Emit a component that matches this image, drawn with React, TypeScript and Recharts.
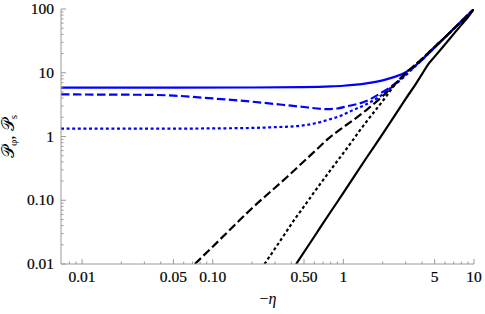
import React from 'react';
import { LineChart, Line, XAxis, YAxis } from 'recharts';

// -η positions and P values (log-log)
const blueSolidX = [0.0069, 0.05, 0.2, 0.5, 0.8, 1, 1.5, 2, 2.5, 3, 3.5, 4, 5, 6, 7, 8, 9, 10];
const blueSolidY = [5.85, 5.85, 5.87, 5.95, 6.1, 6.25, 6.8, 7.6, 8.7, 10.2, 12.6, 16, 25, 36, 49, 64, 81, 100];

const blueDashedX = [0.0069, 0.01, 0.02, 0.033, 0.05, 0.1, 0.19, 0.34, 0.5, 0.74, 0.9, 1.05, 1.5, 2, 2.5, 3, 3.5, 4, 5, 6, 7, 8, 9, 10];
const blueDashedY = [4.57, 4.56, 4.53, 4.5, 4.38, 3.95, 3.55, 3.15, 2.9, 2.69, 2.75, 2.95, 3.6, 5.0, 6.8, 9.5, 12.5, 16, 25, 36, 49, 64, 81, 100];

const blueDottedX = [0.0069, 0.05, 0.1, 0.19, 0.3, 0.46, 0.6, 0.78, 1, 1.11, 1.5, 1.88, 2.4, 2.84, 3.3, 4, 5, 6, 7, 8, 9, 10];
const blueDottedY = [1.33, 1.33, 1.34, 1.36, 1.4, 1.47, 1.6, 1.85, 2.2, 2.45, 3.2, 4.2, 6.2, 8.2, 11, 16, 25, 36, 49, 64, 81, 100];

const blackDashedX = [0.073, 0.1, 0.2, 0.376, 0.6, 0.78, 1, 1.25, 1.5, 2, 2.5, 3, 3.5, 4, 5, 6, 7, 8, 9, 10];
const blackDashedY = [0.01, 0.0187, 0.075, 0.238, 0.58, 0.95, 1.4, 1.95, 2.6, 4.3, 6.7, 10, 13, 16.5, 25.5, 36, 49, 64, 81, 100];

const blackDottedX = [0.249, 0.3, 0.35, 0.423, 0.5, 0.6, 0.8, 1, 1.17, 1.32, 1.5, 2, 2.5, 3, 3.5, 4, 5, 6, 7, 8, 9, 10];
const blackDottedY = [0.01, 0.0175, 0.028, 0.05, 0.08, 0.135, 0.3, 0.55, 0.85, 1.2, 1.7, 3.6, 6.6, 9.8, 13, 16.5, 25.5, 36, 49, 64, 81, 100];

const blackSolidX = [0.435, 0.6, 0.8, 1, 1.5, 2, 2.5, 3, 3.59, 4, 4.5, 5, 6, 7, 8, 9, 10];
const blackSolidY = [0.01, 0.027, 0.066, 0.13, 0.46, 1.1, 2.2, 3.9, 6.7, 9.5, 13.9, 17.9, 27.9, 40.7, 56.3, 74.9, 100];

const xMajorTicks = [0.01, 0.05, 0.1, 0.5, 1, 5, 10];
const xTickLabels = ['0.01', '0.05', '0.10', '0.50', '1', '5', '10'];
const xMinorTicks = [0.008, 0.009, 0.02, 0.03, 0.04, 0.06, 0.07, 0.08, 0.09, 0.2, 0.3, 0.4, 0.6, 0.7, 0.8, 0.9, 2, 3, 4, 6, 7, 8, 9];

const yMajorTicks = [0.01, 0.1, 1, 10, 100];
const yTickLabels = ['0.01', '0.10', '1', '10', '100'];
const yMinorTicks = [
  0.02, 0.03, 0.04, 0.05, 0.06, 0.07, 0.08, 0.09,
  0.2, 0.3, 0.4, 0.5, 0.6, 0.7, 0.8, 0.9,
  2, 3, 4, 5, 6, 7, 8, 9,
  20, 30, 40, 50, 60, 70, 80, 90,
];

const toPoints = (xs: number[], ys: number[]) => xs.map((x, i) => ({ x, y: ys[i] }));

const W = 485;
const H = 314;
const FRAME = '#9a9a9a';
const BLUE = '#0000ff';
const SERIF = 'Liberation Serif';
const DASH = '8.5 3.5';
const DOT = '3 2.6';

const xTicks = [...xMajorTicks, ...xMinorTicks].sort((a, b) => a - b);
const yTicks = [...yMajorTicks, ...yMinorTicks].sort((a, b) => a - b);

// ticks point inward on all four sides, like a Mathematica frame
const makeTick = (side: 'bottom' | 'top' | 'left' | 'right') => (props: any) => {
  const { x, y, payload } = props;
  const v = payload.value;
  const majors = side === 'bottom' || side === 'top' ? xMajorTicks : yMajorTicks;
  const i = majors.indexOf(v);
  const len = i >= 0 ? 5 : 2.5;
  let line;
  if (side === 'bottom') line = <line x1={x} x2={x} y1={y} y2={y - len} stroke={FRAME} />;
  else if (side === 'top') line = <line x1={x} x2={x} y1={y} y2={y + len} stroke={FRAME} />;
  else if (side === 'left') line = <line x1={x} x2={x + len} y1={y} y2={y} stroke={FRAME} />;
  else line = <line x1={x} x2={x - len} y1={y} y2={y} stroke={FRAME} />;
  let label = null;
  if (i >= 0 && side === 'bottom') {
    label = (
      <text x={x} y={y + 18} textAnchor="middle" fontFamily={SERIF} fontSize={15.5} fill="#000" stroke="#000" strokeWidth={0.2}>
        {xTickLabels[i]}
      </text>
    );
  }
  if (i >= 0 && side === 'left') {
    label = (
      <text x={x - 7} y={y + 5} textAnchor="end" fontFamily={SERIF} fontSize={15.5} fill="#000" stroke="#000" strokeWidth={0.2}>
        {yTickLabels[i]}
      </text>
    );
  }
  return (
    <g>
      {line}
      {label}
    </g>
  );
};

const XLabel = () => (
  <text x={268} y={304} textAnchor="middle" fontFamily={SERIF} fontSize={16} fill="#000">
    −<tspan fontStyle="italic">η</tspan>
  </text>
);

const YLabel = () => (
  <text
    x={14}
    y={136.5}
    transform="rotate(-90 14 136.5)"
    textAnchor="middle"
    fontFamily={SERIF}
    fontSize={17}
    fill="#000"
  >
    <tspan>𝒫</tspan>
    <tspan fontSize={11} dy={3}>φ</tspan>
    <tspan dy={-3}>, </tspan>
    <tspan>𝒫</tspan>
    <tspan fontSize={11} dy={3}>s</tspan>
  </text>
);

export default function App() {
  return (
    <div style={{ position: 'absolute', left: 0, top: 0, width: W, height: H, background: '#fff' }}>
      <LineChart width={W} height={H} margin={{ top: 9, right: 11, bottom: 0, left: 0 }}>
        <XAxis
          dataKey="x"
          type="number"
          scale="log"
          domain={[0.0069, 10]}
          allowDataOverflow
          ticks={xTicks}
          interval={0}
          height={50}
          tickSize={0}
          tickMargin={0}
          tickLine={false}
          axisLine={{ stroke: FRAME }}
          tick={makeTick('bottom')}
          label={<XLabel />}
        />
        <XAxis
          xAxisId="top"
          orientation="top"
          dataKey="x"
          type="number"
          scale="log"
          domain={[0.0069, 10]}
          allowDataOverflow
          ticks={xTicks}
          interval={0}
          height={0}
          tickSize={0}
          tickMargin={0}
          tickLine={false}
          axisLine={{ stroke: FRAME }}
          tick={makeTick('top')}
        />
        <YAxis
          type="number"
          scale="log"
          domain={[0.01, 100]}
          allowDataOverflow
          ticks={yTicks}
          interval={0}
          width={61}
          tickSize={0}
          tickMargin={0}
          tickLine={false}
          axisLine={{ stroke: FRAME }}
          tick={makeTick('left')}
          label={<YLabel />}
        />
        <YAxis
          yAxisId="right"
          orientation="right"
          type="number"
          scale="log"
          domain={[0.01, 100]}
          allowDataOverflow
          ticks={yTicks}
          interval={0}
          width={0}
          tickSize={0}
          tickMargin={0}
          tickLine={false}
          axisLine={{ stroke: FRAME }}
          tick={makeTick('right')}
        />
        <Line data={toPoints(blueSolidX, blueSolidY)} dataKey="y" type="monotone" stroke={BLUE} strokeWidth={2.2} dot={false} isAnimationActive={false} />
        <Line data={toPoints(blueDashedX, blueDashedY)} dataKey="y" type="monotone" stroke={BLUE} strokeWidth={2.2} strokeDasharray={DASH} dot={false} isAnimationActive={false} />
        <Line data={toPoints(blueDottedX, blueDottedY)} dataKey="y" type="monotone" stroke={BLUE} strokeWidth={2.2} strokeDasharray={DOT} dot={false} isAnimationActive={false} />
        <Line data={toPoints(blackDashedX, blackDashedY)} dataKey="y" type="monotone" stroke="#000" strokeWidth={2.2} strokeDasharray={DASH} dot={false} isAnimationActive={false} />
        <Line data={toPoints(blackDottedX, blackDottedY)} dataKey="y" type="monotone" stroke="#000" strokeWidth={2.2} strokeDasharray={DOT} dot={false} isAnimationActive={false} />
        <Line data={toPoints(blackSolidX, blackSolidY)} dataKey="y" type="monotone" stroke="#000" strokeWidth={2.2} dot={false} isAnimationActive={false} />
      </LineChart>
    </div>
  );
}
